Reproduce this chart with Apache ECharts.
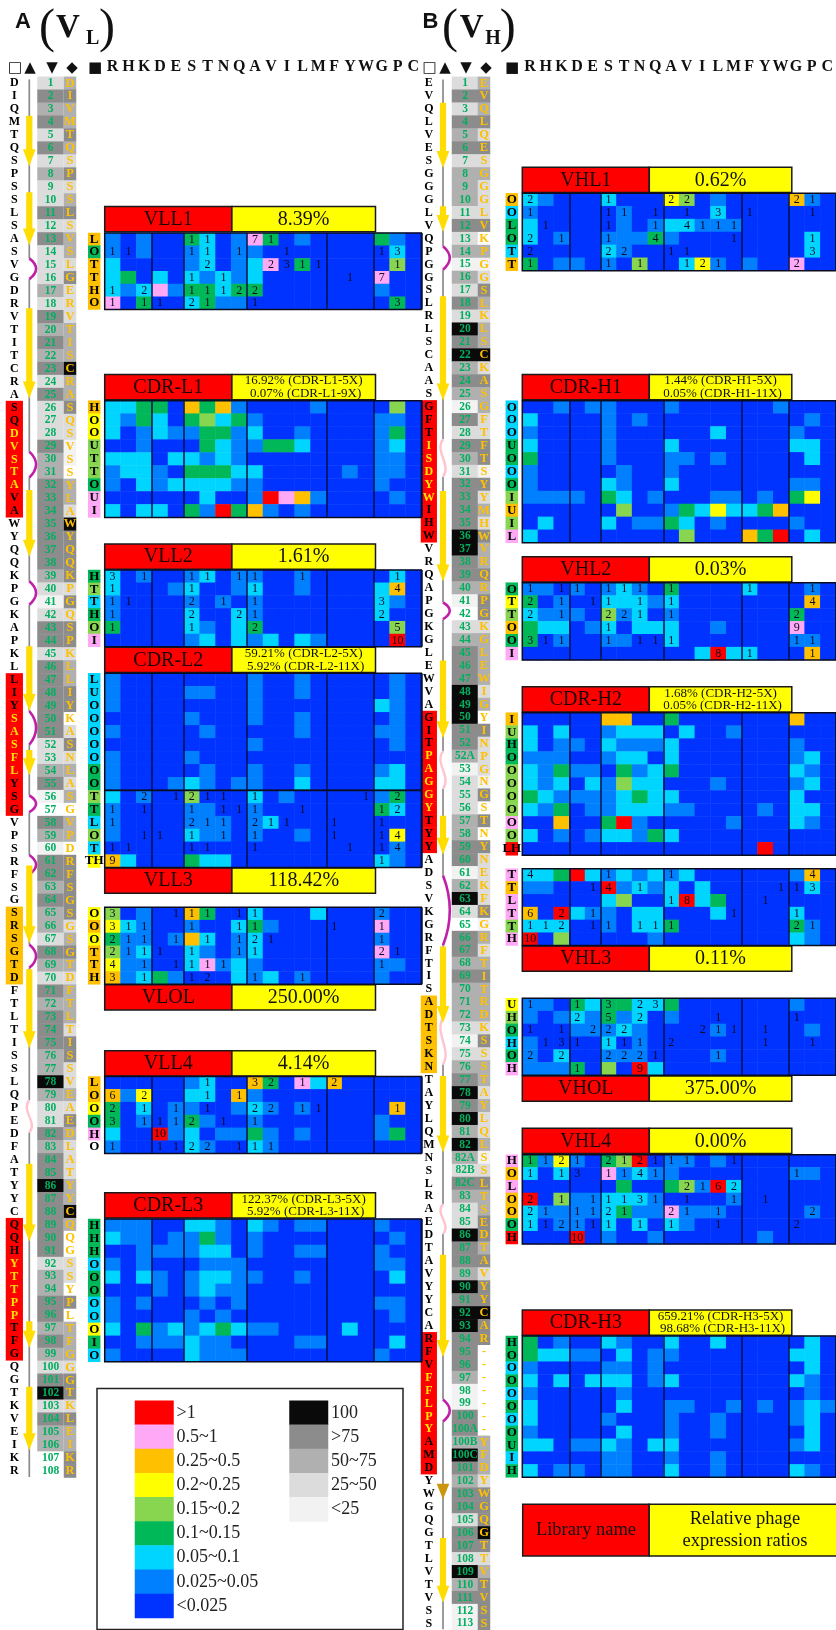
<!DOCTYPE html>
<html>
<head>
<meta charset="utf-8">
<title>VL / VH shotgun scanning</title>
<script src="https://cdn.jsdelivr.net/npm/echarts@6/dist/echarts.min.js"></script>
<style>
  * { margin: 0; padding: 0; }
  body { background: #fff; }
  #main { width: 836px; height: 1630px; overflow: hidden; }
</style>
</head>
<body>
<div id="main"></div>
<script>
// colour bins: 0 <0.025, 1 0.025~0.05, 2 0.05~0.1, 3 0.1~0.15, 4 0.15~0.2,
// 5 0.2~0.25, 6 0.25~0.5, 7 0.5~1, 8 >1, 9 blank, 10-14 conservation greys
var aminoAcids = ['R','H','K','D','E','S','T','N','Q','A','V','I','L','M','F','Y','W','G','P','C'];
var groupStarts = [3, 5, 9, 14, 17];
var ratioLabels = ['>1','0.5~1','0.25~0.5','0.2~0.25','0.15~0.2','0.1~0.15','0.05~0.1','0.025~0.05','<0.025'];
var ratioBins = [8,7,6,5,4,3,2,1,0];
var greyLabels = ['100','>75','50~75','25~50','<25'];
var greyBins = [14,13,12,11,10];

// ---- VL chain
var vlResidues = 'DIQMTQSPSSLSASVGDRVTITCRASQDVSTAVAWYQQKPGKAPKLLIYSASFLYSGVPSRFSGSRSGTDFTLTISSLQPEDFATYYCQQHYTTPPTFGQGTKVEIKR';
var vlGermline = 'DIVMTQSPSSLSVSLGERVTISCRASQSVSSYLAWYQQKPGQSPKLLIYKASNLASGVPDRFSGSGSGTDFTLTISSVEAEDLATYYCQQGSSYPLTFGGGTKLEIKR';
var vlNumbers = [1,2,3,4,5,6,7,8,9,10,11,12,13,14,15,16,17,18,19,20,21,22,23,24,25,26,27,28,29,30,31,32,33,34,35,36,37,38,39,40,41,42,43,44,45,46,47,48,49,50,51,52,53,54,55,56,57,58,59,60,61,62,63,64,65,66,67,68,69,70,71,72,73,74,75,76,77,78,79,80,81,82,83,84,85,86,87,88,89,90,91,92,93,94,95,96,97,98,99,100,101,102,103,104,105,106,107,108];
var vlNumShade = '2434242322'+'4242223243'+'4342422243'+'3444444432'+'1244244444'+'4223410431'+'4434332432'+'4344433532'+'2434454444'+'4233443432'+'45243300';
var vlGermShade = '3433432423'+'4233242223'+'3353342211'+'0332544442'+'4244233440'+'2423230330'+'4444423432'+'3332442232'+'4322233530'+'0220403332'+'44243344';
var vlRedRows = [[26,34],[47,57],[89,99]];
var vlOrangeRows = [[65,70]];
var vlYellowText = [[28,32],[50,54],[92,96]];
var vlStrands = [[3.5,7.4],[9.4,13.5],[18.35,25.3],[32.35,37.5],[44.4,49.4],[52.4,54.35],[61.3,67.3],[69.3,75.4],[84.3,90.3],[96.45,98.5],[101.5,106.4]];
var vlLoops = [[14.5,16.1,0],[29.4,31.4,0],[39.4,41.2,0],[49.4,52,0],[55.9,57.2,0],[60.5,62,0],[67.4,69.2,0],[79.4,81.9,1]];

// ---- VH chain
var vhResidues = 'EVQLVESGGGLVQPGGSLRLSCAASGFTISDYWIHWVRQAPGKGLEWVAGITPAGGYTYYADSVKGRFTISADTSKNTAYLQMNSLRAEDTAVYYCARFVFFLPYAMDYWGQGTLVTVSS';
var vhGermline = 'EVQLQESGGG'+'LVKPGGSLKL'+'SCKASGFTFT'+'SYYMHWVRQR'+'PGKGLEWIGY'+'INPGNGSTNY'+'NEKFKGRFTI'+'TRDKSSSTAY'+'LQLSSLTSED'+'TAVYYCAR--'+'-----YFDYW'+'GQGTTVTVSS';
var vhNumbers = [1,2,3,4,5,6,7,8,9,10,11,12,13,14,15,16,17,18,19,20,21,22,23,24,25,26,27,28,29,30,31,32,33,34,35,36,37,38,39,40,41,42,43,44,45,46,47,48,49,50,51,52,'52A',53,54,55,56,57,58,59,60,61,62,63,64,65,66,67,68,69,70,71,72,73,74,75,76,77,78,79,80,81,82,'82A','82B','82C',83,84,85,86,87,88,89,90,91,92,93,94,95,96,97,98,99,100,'100A','100B','100C',101,102,103,104,105,106,107,108,109,110,111,112,113];
var vhNumShade = '2424342333'+'2423132425'+'4534314243'+'2444455443'+'1023444555'+'4431222334'+'4135204434'+'3332123454'+'5353243225'+'4435455444'+'3114435434'+'4244253411';
var vhGermShade = '3434242322'+'2403124323'+'3524332244'+'1423243343'+'4423333230'+'4222140404'+'2222413234'+'3332423323'+'2231243344'+'3424454400'+'0000033324'+'4454234444';
var vhRedRows = [[26,36],[50,60],[98,108]];
var vhOrangeRows = [[72,77]];
var vhYellowText = [[29,33],[53,57],[101,105]];
var vhStrands = [[2.5,7.55],[10.5,12.5],[17.45,25.5],[32.5,39.5],[45.6,51.6],[57.6,60.6],[67.7,73.6],[77.7,83.6],[91.5,99.4],[113.4,118.4]];
var vhGoldStrands = [[109.2,110.4]];
var vhLoops = [[13.6,15.4,0],[28.5,31.4,1],[41.1,42.4,0],[52.6,55.5,1],[62.2,67.6,0],[73.2,76.8,1],[87.6,89.9,1],[102.7,104.4,0]];

// ---- heat panels: one digit per amino acid (colour bin), counts use . for none, a for 10
var vll1Labels = ['L','O','T','T','H','O'];
var vll1LabelBins = [6,3,6,6,6,6];
var vll1Bins = ['101 00 3201 73010 000 310','101 00 1201 10000 000 020','200 00 1201 27030 000 040','230 20 2121 20000 000 700','212 71 3323 30000 000 100','703 00 2311 00000 000 030'];
var vll1Counts = ['... .. 11.. 71... ... ...','11. .. 11.1 ..1.. ... 13.','... .. .2.. .2311 ... .1.','... .. 1.1. ..... .1. 7..','1.2 .. 1112 2.... ... ...','1.1 1. 21.. 1.... ... .3.'];

var cdrL1Labels = ['H','O','O','U','T','T','O','U','I'];
var cdrL1LabelBins = [6,5,5,4,4,4,3,7,7];
var cdrL1Bins = ['223 30 6361 00001 000 040','213 20 3423 10000 000 110','201 21 1331 20010 000 130','001 00 0321 13320 000 120','222 02 2121 00000 000 110','122 10 3332 20000 010 110','102 12 2221 10000 000 100','000 00 0200 18761 000 010','202 20 3183 61010 000 000'];

var vll2Labels = ['H','T','T','H','O','I'];
var vll2LabelBins = [3,4,2,3,4,7];
var vll2Bins = ['201 00 1201 10010 000 020','200 01 2001 20010 000 260','100 00 1010 10000 000 210','100 00 2002 10000 000 200','300 00 2102 30000 000 040','000 00 1202 12021 000 080'];
var vll2Counts = ['3.1 .. 11.1 1..1. ... .1.','1.. .. 1... 1.... ... .4.','11. .. 2.1. 1.... ... 3..','1.. .. 2..2 1.... ... 2..','1.. .. 1... 2.... ... .5.','... .. .... ..... ... .a.'];

var cdrL2Labels = ['L','U','O','O','O','O','O','O','O'];
var cdrL2LabelBins = [2,2,2,2,2,2,2,3,3];
var cdrL2Bins = ['100 00 0000 10010 000 010','100 00 1100 10010 000 010','100 00 0000 10000 000 210','000 00 1000 10010 000 010','100 00 0100 00010 000 110','000 00 0000 10000 000 010','100 00 1000 00000 000 000','100 00 0100 10010 000 120','100 01 2101 10020 000 220'];

var vll3Labels = ['T','T','L','O','T','TH'];
var vll3LabelBins = [4,3,2,4,2,5];
var vll3Bins = ['201 00 4000 20100 000 130','100 00 1100 10000 000 320','100 00 1110 12000 000 000','100 00 2110 10010 000 050','000 00 0000 00000 000 010','620 00 3220 00000 000 210'];
var vll3Counts = ['..2 .1 211. 1.... ..1 .2.','1.1 .. 1.11 1..1. ... 12.','1.. .. 211. 211.. 1.. 1..','..1 1. 1.1. 1.... 1.. 14.','11. .. 11.. 1.... .1. 14.','9.. .. .... ..... ... 1..'];

var vlolLabels = ['O','O','O','T','T','H'];
var vlolLabelBins = [5,6,5,6,6,6];
var vlolBins = ['401 00 6300 20002 000 100','521 00 1002 31000 000 700','311 01 6201 20000 000 100','412 00 2101 20000 000 700','511 00 2712 10000 000 110','612 31 0002 12010 000 100'];
var vlolCounts = ['3.. .1 11.1 1.... ... 2..','311 .. 1..1 1.... 1.. 1..','211 .1 .1.1 21... ... 1..','211 1. 1..1 1.... ... 21.','4.1 .1 111. ..... ... 1..','3.1 .. 12.. 1..1. ... ...'];

var vll4Labels = ['L','O','O','O','H','O'];
var vll4LabelBins = [6,6,5,3,7,9];
var vll4Bins = ['000 00 1200 63072 600 000','615 00 2206 10000 000 000','302 01 1001 21010 000 060','301 01 3100 10000 000 100','200 81 2011 31010 000 130','100 00 2100 21000 000 000'];
var vll4Counts = ['... .. .1.. 32.1. 2.. ...','6.2 .. .1.1 ..... ... ...','2.1 .1 .1.. 22.11 ... .1.','3.1 11 2.1. 1.... ... ...','... a. .... ..... ... ...','1.. 11 22.1 11... ... ...'];

var cdrL3Labels = ['H','H','H','O','O','O','O','O','O','I','O'];
var cdrL3LabelBins = [3,3,3,2,3,3,2,2,5,3,2];
var cdrL3Bins = ['111 00 2210 21011 000 100','211 01 1310 10000 000 010','001 11 1220 10011 000 100','101 00 0111 00000 000 110','202 10 1221 10010 000 020','000 10 1211 00000 000 000','101 00 0101 00000 000 110','100 00 1010 00000 000 010','203 12 1232 11000 020 000','001 11 2110 00011 000 020','100 00 2111 00000 000 100'];

var vhl1Labels = ['O','O','L','O','T','T'];
var vhl1LabelBins = [6,2,3,3,2,6];
var vhl1Bins = ['210 00 2000 54010 000 610','100 00 0100 00020 000 000','200 00 0101 22111 000 000','201 00 1113 10000 000 020','000 00 2100 00000 000 020','301 10 1040 02510 100 700'];
var vhl1Counts = ['2.. .. 1... 22... ... 21.','1.. .. 11.1 .1.3. 1.. .1.','.1. .. 1..1 .4111 ... ...','2.1 .. 1..4 ....1 ... .1.','2.. .. 22.. 11... ... .3.','1.. .. 1.1. .121. ... 2..'];

var cdrH1Labels = ['O','O','O','U','O','O','O','I','U','I','L'];
var cdrH1LabelBins = [2,2,2,3,3,2,3,4,6,4,7];
var cdrH1Bins = ['001 01 1000 10000 001 000','200 00 1010 00000 000 010','100 00 1000 00020 000 100','200 00 1000 20000 000 220','300 00 1000 11010 000 020','100 00 0100 10000 000 000','100 00 2100 20000 000 110','111 10 3201 00011 010 350','000 00 0400 13252 236 000','020 00 2011 32010 000 100','200 00 0000 04000 638 020'];

var vhl2Labels = ['O','T','T','O','O','I'];
var vhl2LabelBins = [3,5,4,6,3,7];
var vhl2Bins = ['110 10 1210 30000 200 010','301 00 2221 20000 000 060','211 10 4120 10000 000 300','322 01 2022 20010 000 700','301 00 1100 20000 000 110','000 00 0000 00282 200 060'];
var vhl2Counts = ['1.1 1. 111. 1.... 1.. .1.','2.1 .1 1.1. 1.... ... .4.','2.1 .. 221. 1.... ... 2..','... .. 1... ..... ... 9..','311 .. 1.11 1.... ... 11.','... .. .... ...8. 1.. .1.'];

var cdrH2Labels = ['I','U','H','O','O','O','O','O','O','O','LH'];
var cdrH2LabelBins = [6,4,3,3,4,4,4,4,7,4,8];
var cdrH2Bins = ['000 00 6600 30000 000 600','202 00 1222 02001 000 000','201 10 2111 20000 000 100','111 00 1220 20000 000 120','213 11 0312 30000 000 210','212 02 1422 00010 000 120','321 11 1232 20000 000 200','213 01 1222 11000 010 220','006 00 3810 00001 000 210','201 01 2213 20000 000 000','000 00 0000 00000 080 000'];

var vhl3Labels = ['T','T','L','T','T','H'];
var vhl3LabelBins = [7,6,7,7,4,7];
var vhl3Bins = ['223 82 1212 12000 000 160','110 00 8121 20200 000 020','000 00 2400 28230 000 000','608 21 1022 00020 000 200','222 00 1022 30000 000 310','804 00 0001 00000 000 210'];
var vhl3Counts = ['4.. .. 1... 1.... ... .4.','... .1 4.1. ..... ..1 13.','... .. .... 18... .1. ...','6.2 .1 .... ....1 ... 1..','112 .1 1.11 1.... ... 21.','a.. .. .... ..... ... ...'];

var vholLabels = ['U','H','O','H','O','H'];
var vholLabelBins = [5,4,3,2,3,7];
var vholBins = ['110 32 3322 30000 000 100','101 21 3120 10000 000 000','000 11 1210 00010 000 010','100 00 2010 00000 000 000','102 00 1110 00010 000 000','111 30 4082 00000 000 000'];
var vholCounts = ['1.. 1. 3.23 ..... ... ...','... 2. 5.2. ...1. ... 1..','1.1 .2 22.. ..211 .1. ...','.13 1. 111. 2.... .1. .1.','2.2 .. 2221 ...1. ... ...','... 1. ..9. ..... ... ...'];

var vhl4Labels = ['H','O','L','O','O','O','H'];
var vhl4LabelBins = [7,6,7,6,6,3,8];
var vhl4Bins = ['315 10 3480 11010 000 000','202 00 7121 10000 000 110','000 00 0300 34182 000 000','804 11 2221 00001 000 000','211 11 2311 71110 000 010','201 10 2020 21000 000 000','000 80 1001 00000 010 000'];
var vhl4Counts = ['112 1. 2121 11..1 ... ...','1.1 3. 1141 ..... ... 1..','... .. .... .2162 ... ...','2.1 .1 1131 .1..1 .1. ...','21. 11 21.. 21.1. ... .2.','112 11 1.1. 1..1. ... 2..','... a. .... ..... ... ...'];

var cdrH3Labels = ['H','O','O','O','O','O','O','O','U','I','H'];
var cdrH3LabelBins = [3,3,2,3,2,3,2,3,3,2,3];
var cdrH3Bins = ['301 00 2100 20020 000 020','322 11 0201 10000 000 220','100 00 1101 00000 000 020','202 02 2201 20000 000 210','100 00 0100 00000 000 010','200 00 0200 11001 010 121','200 00 1000 10010 000 120','100 00 0200 10010 000 020','220 11 2102 20000 000 120','000 00 1100 10010 000 000','201 10 1100 20010 000 210'];

// ---- layout
var palette = ['#0033ff','#0080ff','#00d5ff','#00b858','#88d550','#ffff00','#ffc000','#ffa8f5','#ff0000','#ffffff','#f2f2f2','#dcdcdc','#b0b0b0','#8c8c8c','#0a0a0a'];
var SERIF = '"Liberation Serif"';
var ROW = 12.97, SEQ_TOP = 76.8;

var panelsA = [
  {title:'VLL1', ratio:['8.39%'], labels:vll1Labels, labelBins:vll1LabelBins, bins:vll1Bins, counts:vll1Counts, top:233, height:76.5, head:206.5},
  {title:'CDR-L1', ratio:['16.92% (CDR-L1-5X)','0.07% (CDR-L1-9X)'], labels:cdrL1Labels, labelBins:cdrL1LabelBins, bins:cdrL1Bins, top:400.7, height:116.7, head:374.5},
  {title:'VLL2', ratio:['1.61%'], labels:vll2Labels, labelBins:vll2LabelBins, bins:vll2Bins, counts:vll2Counts, top:570, height:76.8, head:544},
  {title:'CDR-L2', ratio:['59.21% (CDR-L2-5X)','5.92% (CDR-L2-11X)'], labels:cdrL2Labels, labelBins:cdrL2LabelBins, bins:cdrL2Bins, top:673.3, height:117, head:647.3},
  {title:'VLL3', ratio:['118.42%'], labels:vll3Labels, labelBins:vll3LabelBins, bins:vll3Bins, counts:vll3Counts, top:790.5, height:77, head:868},
  {title:'VLOL', ratio:['250.00%'], labels:vlolLabels, labelBins:vlolLabelBins, bins:vlolBins, counts:vlolCounts, top:907.3, height:77, head:984.7},
  {title:'VLL4', ratio:['4.14%'], labels:vll4Labels, labelBins:vll4LabelBins, bins:vll4Bins, counts:vll4Counts, top:1076.5, height:77, head:1050.7},
  {title:'CDR-L3', ratio:['122.37% (CDR-L3-5X)','5.92% (CDR-L3-11X)'], labels:cdrL3Labels, labelBins:cdrL3LabelBins, bins:cdrL3Bins, top:1219, height:142.8, head:1192.7}
];
var panelsB = [
  {title:'VHL1', ratio:['0.62%'], labels:vhl1Labels, labelBins:vhl1LabelBins, bins:vhl1Bins, counts:vhl1Counts, top:193.3, height:77.4, head:167.3},
  {title:'CDR-H1', ratio:['1.44% (CDR-H1-5X)','0.05% (CDR-H1-11X)'], labels:cdrH1Labels, labelBins:cdrH1LabelBins, bins:cdrH1Bins, top:400.7, height:142, head:374.5},
  {title:'VHL2', ratio:['0.03%'], labels:vhl2Labels, labelBins:vhl2LabelBins, bins:vhl2Bins, counts:vhl2Counts, top:582.7, height:77.3, head:556.7},
  {title:'CDR-H2', ratio:['1.68% (CDR-H2-5X)','0.05% (CDR-H2-11X)'], labels:cdrH2Labels, labelBins:cdrH2LabelBins, bins:cdrH2Bins, top:712.7, height:142.6, head:686.7},
  {title:'VHL3', ratio:['0.11%'], labels:vhl3Labels, labelBins:vhl3LabelBins, bins:vhl3Bins, counts:vhl3Counts, top:868.7, height:76.8, head:946},
  {title:'VHOL', ratio:['375.00%'], labels:vholLabels, labelBins:vholLabelBins, bins:vholBins, counts:vholCounts, top:998.3, height:76.9, head:1076},
  {title:'VHL4', ratio:['0.00%'], labels:vhl4Labels, labelBins:vhl4LabelBins, bins:vhl4Bins, counts:vhl4Counts, top:1154.7, height:89.3, head:1128.3},
  {title:'CDR-H3', ratio:['659.21% (CDR-H3-5X)','98.68% (CDR-H3-11X)'], labels:cdrH3Labels, labelBins:cdrH3LabelBins, bins:cdrH3Bins, top:1336, height:141.3, head:1310}
];

var grid = [], xAxis = [], yAxis = [], series = [], graphic = [], heatIndex = [];

function hiddenAxis(extra) {
  return Object.assign({show:false, axisLine:{show:false}, axisTick:{show:false}, axisLabel:{show:false}, splitLine:{show:false}}, extra);
}
function addHeat(data, labelStyle) {
  heatIndex.push(series.length);
  series.push({
    type:'heatmap', xAxisIndex:grid.length-1, yAxisIndex:grid.length-1, data:data, animation:false, silent:true,
    label:Object.assign({show:true, fontFamily:SERIF, formatter:function(p){ return p.value[3]; }}, labelStyle)
  });
}
function digits(row) { return row.replace(/ /g,'').split(''); }
function txt(x, y, text, font, color, align) {
  graphic.push({type:'text', silent:true, x:x, y:y, style:{text:text, font:font, fill:color||'#111', textAlign:align||'center', textVerticalAlign:'middle'}});
}
function box(x, y, w, h, fill, stroke, lw) {
  graphic.push({type:'rect', silent:true, shape:{x:x,y:y,width:w,height:h}, style:{fill:fill, stroke:stroke||'#1a1a1a', lineWidth:lw==null?1.5:lw}});
}

// one heat block + its row letters + its red/yellow heading
function addPanel(p, left, colW, redW, yellowW) {
  var rows = p.labels.map(function(v,i){ return i; });
  grid.push({left:left, top:p.top, width:colW*20, height:p.height, show:true, z:5, backgroundColor:'transparent', borderColor:'#0c0c20', borderWidth:1.5});
  xAxis.push({gridIndex:grid.length-1, type:'category', data:aminoAcids, z:6, axisLine:{show:false}, axisTick:{show:false}, axisLabel:{show:false},
    splitLine:{show:true, interval:function(i){ return groupStarts.indexOf(i) >= 0; }, lineStyle:{color:'#00124d', width:1.5}}});
  yAxis.push(hiddenAxis({gridIndex:grid.length-1, type:'category', inverse:true, data:rows}));
  var cells = [];
  p.bins.forEach(function(row, y){
    var c = p.counts ? digits(p.counts[y]) : [];
    digits(row).forEach(function(b, x){
      var n = c[x] && c[x] !== '.' ? (c[x] === 'a' ? '10' : c[x]) : '';
      cells.push([x, y, +b, n]);
    });
  });
  addHeat(cells, {fontSize:12, color:'#0a0a22'});

  grid.push({left:left-16.5, top:p.top, width:12, height:p.height});
  xAxis.push(hiddenAxis({gridIndex:grid.length-1, type:'category', data:['']}));
  yAxis.push(hiddenAxis({gridIndex:grid.length-1, type:'category', inverse:true, data:rows}));
  addHeat(p.labels.map(function(l,i){ return [0,i,p.labelBins[i],l]; }), {fontSize:13, fontWeight:'bold', color:'#000'});

  box(left, p.head, redW, 25.3, '#ff0000');
  box(left+redW, p.head, yellowW, 25.3, '#ffff00');
  txt(left+redW/2, p.head+13, p.title, '20px '+SERIF, '#1a0505');
  var cx = left+redW+yellowW/2;
  if (p.ratio.length === 1) {
    txt(cx, p.head+13, p.ratio[0], '20px '+SERIF);
  } else {
    txt(cx, p.head+6.5, p.ratio[0], '13px '+SERIF);
    txt(cx+2, p.head+19, p.ratio[1], '13px '+SERIF);
  }
}

// number / residue columns share the same row scale
function addSeqColumn(left, width, items, labelStyle) {
  grid.push({left:left, top:SEQ_TOP, width:width, height:items.length*ROW});
  xAxis.push(hiddenAxis({gridIndex:grid.length-1, type:'category', data:['']}));
  yAxis.push(hiddenAxis({gridIndex:grid.length-1, type:'category', inverse:true, data:items.map(function(v,i){ return i; })}));
  addHeat(items.map(function(it,i){ return {value:[0,i,it.bin,it.text], label:{color:it.color}}; }),
    Object.assign({fontWeight:'bold'}, labelStyle));
}
function inRanges(n, ranges) {
  return ranges.some(function(r){ return n >= r[0] && n <= r[1]; });
}
function shadeBin(d) { return d === '0' ? 9 : 9 + (+d); }

function addChain(c) {
  var n = c.residues.length;
  addSeqColumn(c.resLeft, c.resW, c.residues.split('').map(function(l,i){
    var pos = i+1;
    return {text:l, bin:inRanges(pos,c.red)?8:(inRanges(pos,c.orange)?6:9), color:inRanges(pos,c.yellow)?'#ffe600':'#000'};
  }), {fontSize:12});
  addSeqColumn(c.numLeft, 26, c.numbers.map(function(num,i){
    return {text:String(num), bin:shadeBin(c.numShade[i]), color:'#00b060'};
  }), {fontSize:11.5});
  addSeqColumn(c.germLeft, 12, c.germline.split('').map(function(l,i){
    return {text:l, bin:shadeBin(c.germShade[i]), color:'#ffc000'};
  }), {fontSize:12.5});

  // secondary structure drawn on a fractional row scale
  grid.push({left:c.ssLeft, top:SEQ_TOP, width:12.6, height:n*ROW});
  var g = grid.length-1;
  xAxis.push(hiddenAxis({gridIndex:g, type:'value', min:0, max:1}));
  yAxis.push(hiddenAxis({gridIndex:g, type:'value', inverse:true, min:0.5, max:n+0.5}));

  var coil = [], from = 0.7;
  c.loops.forEach(function(l){ coil.push([from,l[0]]); from = l[1]; });
  coil.push([from, n+0.45]);
  series.push({type:'custom', xAxisIndex:g, yAxisIndex:g, silent:true, animation:false, clip:false, data:coil,
    renderItem:function(params, api){
      var a = api.coord([0.5, api.value(0)]), b = api.coord([0.5, api.value(1)]);
      return {type:'line', shape:{x1:a[0],y1:a[1],x2:b[0],y2:b[1]}, style:{stroke:'#8a8a8a', lineWidth:1.7}};
    }});
  series.push({type:'custom', xAxisIndex:g, yAxisIndex:g, silent:true, animation:false, clip:false, data:c.loops,
    renderItem:function(params, api){
      var a = api.coord([0.5, api.value(0)]), b = api.coord([0.5, api.value(1)]), pink = api.value(2) === 1;
      return {type:'bezierCurve', shape:{x1:a[0],y1:a[1],x2:b[0],y2:b[1],
          cpx1:a[0]+(pink?-9:9), cpy1:a[1]+(b[1]-a[1])*0.33, cpx2:a[0]+9, cpy2:a[1]+(b[1]-a[1])*0.67},
        style:{stroke:pink?'#ffc4d0':'#c020a8', lineWidth:pink?2.4:2.6, fill:'none'}};
    }});
  var arrow = function(color){
    return function(params, api){
      var a = api.coord([0.5, api.value(0)]), b = api.coord([0.5, api.value(1)]);
      var neck = Math.max(a[1], b[1]-17), x = a[0];
      return {type:'polygon', shape:{points:[[x-3.1,a[1]],[x+3.1,a[1]],[x+3.1,neck],[x+6.3,neck],[x,b[1]],[x-6.3,neck],[x-3.1,neck]]}, style:{fill:color}};
    };
  };
  series.push({type:'custom', xAxisIndex:g, yAxisIndex:g, silent:true, animation:false, clip:false, data:c.strands, renderItem:arrow('#ffdd00')});
  if (c.gold) {
    series.push({type:'custom', xAxisIndex:g, yAxisIndex:g, silent:true, animation:false, clip:false, data:c.gold, renderItem:arrow('#c9960c')});
  }

  // column key + amino acid header
  var ic = c.icons, f = '15px "DejaVu Sans"';
  txt(ic[0], 68.5, '\u25A1', f); txt(ic[1], 68, '\u25B2', f); txt(ic[2], 68, '\u25BC', f); txt(ic[3], 68, '\u25C6', f); txt(ic[4], 68, '\u25A0', f);
  grid.push({left:c.panelLeft, top:76, width:c.colW*20, height:2});
  xAxis.push({gridIndex:grid.length-1, type:'category', position:'top', data:aminoAcids, axisLine:{show:false}, axisTick:{show:false}, splitLine:{show:false},
    axisLabel:{show:true, interval:0, margin:1, hideOverlap:false, fontFamily:SERIF, fontWeight:'bold', fontSize:16, color:'#111'}});
  yAxis.push(hiddenAxis({gridIndex:grid.length-1, type:'value'}));

  // big title
  txt(c.title[0], 22, c.title[5], 'bold 22px "Liberation Sans"');
  txt(c.title[1], 29, '(', '48px '+SERIF);
  txt(c.title[2], 28, 'V', 'bold 33px '+SERIF);
  txt(c.title[3], 39, c.title[6], 'bold 20px '+SERIF);
  txt(c.title[4], 29, ')', '48px '+SERIF);
}

addChain({residues:vlResidues, germline:vlGermline, numbers:vlNumbers, numShade:vlNumShade, germShade:vlGermShade,
  red:vlRedRows, orange:vlOrangeRows, yellow:vlYellowText, strands:vlStrands, loops:vlLoops,
  resLeft:6, resW:16.7, ssLeft:23, numLeft:37.5, germLeft:64, panelLeft:104.7, colW:15.83,
  icons:[15,30,52,72,95], title:[23,47,68,92.7,107,'A','L']});
addChain({residues:vhResidues, germline:vhGermline, numbers:vhNumbers, numShade:vhNumShade, germShade:vhGermShade,
  red:vhRedRows, orange:vhOrangeRows, yellow:vhYellowText, strands:vhStrands, gold:vhGoldStrands, loops:vhLoops,
  resLeft:421, resW:15.7, ssLeft:436.7, numLeft:452, germLeft:478, panelLeft:522.3, colW:15.93,
  icons:[429.5,445,466,486,512], title:[430.5,450,471.7,493,507.7,'B','H']});

panelsA.forEach(function(p){ addPanel(p, 104.7, 15.83, 127.2, 143.6); });
panelsB.forEach(function(p){ addPanel(p, 522.3, 15.93, 127, 142.5); });

// example heading box under panel B
box(522.7, 1504.3, 126.5, 51.7, '#ff0000');
box(649.2, 1504.3, 190, 51.7, '#ffff00');
txt(586, 1530, 'Library name', '18.5px '+SERIF);
txt(745, 1519, 'Relative phage', '18.5px '+SERIF);
txt(745, 1541.5, 'expression ratios', '18.5px '+SERIF);

// colour key
box(97, 1388.5, 306, 241, 'none', '#222', 1.5);
function addKey(left, labels, bins) {
  grid.push({left:left, top:1400.7, width:38.5, height:labels.length*24.15});
  xAxis.push(hiddenAxis({gridIndex:grid.length-1, type:'category', data:['']}));
  yAxis.push({gridIndex:grid.length-1, type:'category', inverse:true, position:'right', data:labels,
    axisLine:{show:false}, axisTick:{show:false}, splitLine:{show:false},
    axisLabel:{show:true, interval:0, margin:3, align:'left', fontFamily:SERIF, fontSize:18, color:'#222'}});
  heatIndex.push(series.length);
  series.push({type:'heatmap', xAxisIndex:grid.length-1, yAxisIndex:grid.length-1, silent:true, animation:false,
    data:bins.map(function(b,i){ return [0,i,b]; })});
}
addKey(135, ratioLabels, ratioBins);
addKey(289.5, greyLabels, greyBins);

var chart = echarts.init(document.getElementById('main'), null, {renderer:'canvas'});
chart.setOption({
  animation:false,
  backgroundColor:'#fff',
  tooltip:{show:false},
  grid:grid, xAxis:xAxis, yAxis:yAxis, series:series, graphic:graphic,
  visualMap:{show:false, type:'piecewise', dimension:2, seriesIndex:heatIndex,
    pieces:palette.map(function(c,i){ return {value:i, color:c}; })}
});
</script>
</body>
</html>
